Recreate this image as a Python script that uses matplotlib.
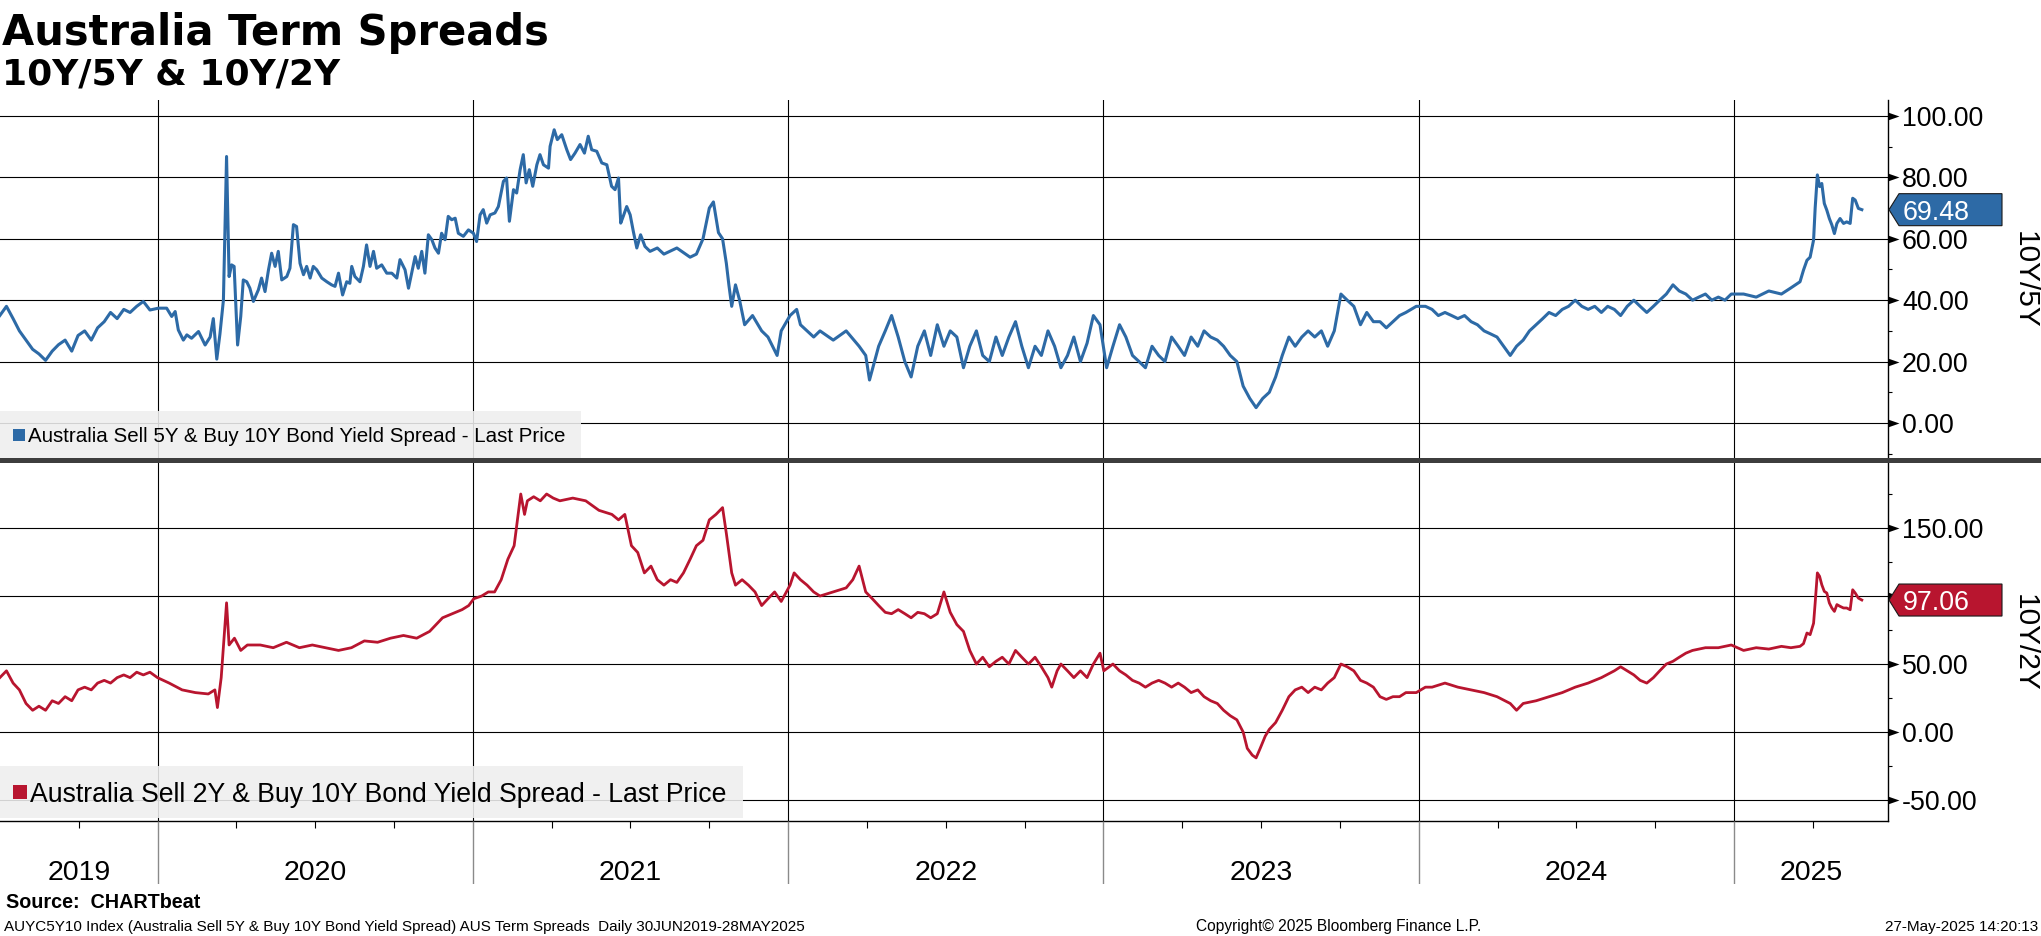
import numpy as np
import matplotlib
matplotlib.use("Agg")
import matplotlib.pyplot as plt
from matplotlib.ticker import FixedLocator, MultipleLocator, NullFormatter
from matplotlib.patches import Polygon, Rectangle
from matplotlib.transforms import IdentityTransform

# ---------------- data (decimal years, basis points) ----------------
years_5y = [
    2019.500, 2019.521, 2019.542, 2019.562, 2019.583, 2019.604, 2019.624, 2019.645, 2019.666, 2019.686,
    2019.707, 2019.728, 2019.748, 2019.769, 2019.790, 2019.810, 2019.831, 2019.851, 2019.872, 2019.893,
    2019.913, 2019.934, 2019.955, 2019.976,
    2020.003, 2020.029, 2020.045, 2020.056, 2020.066, 2020.082, 2020.093, 2020.108, 2020.130, 2020.151,
    2020.167, 2020.177, 2020.188, 2020.198, 2020.209, 2020.219, 2020.227, 2020.235, 2020.243, 2020.254,
    2020.264, 2020.272, 2020.283, 2020.293, 2020.304, 2020.320, 2020.330, 2020.341, 2020.352, 2020.362,
    2020.373, 2020.383, 2020.394, 2020.410, 2020.420, 2020.431, 2020.441, 2020.452, 2020.463, 2020.473,
    2020.484, 2020.494, 2020.505, 2020.521, 2020.537, 2020.552, 2020.563, 2020.574, 2020.587, 2020.600,
    2020.610, 2020.616, 2020.626, 2020.642, 2020.653, 2020.663, 2020.674, 2020.685, 2020.695, 2020.711,
    2020.727, 2020.743, 2020.759, 2020.769, 2020.785, 2020.796, 2020.806, 2020.817, 2020.827, 2020.838,
    2020.848, 2020.859, 2020.870, 2020.880, 2020.891, 2020.901, 2020.912, 2020.922, 2020.933, 2020.944,
    2020.954, 2020.970, 2020.986, 2021.002, 2021.012, 2021.023, 2021.033, 2021.044, 2021.055, 2021.070,
    2021.081, 2021.097, 2021.107, 2021.116, 2021.129, 2021.139, 2021.150, 2021.160, 2021.169, 2021.179,
    2021.190, 2021.203, 2021.213, 2021.224, 2021.240, 2021.245, 2021.258, 2021.268, 2021.282, 2021.298,
    2021.310, 2021.324, 2021.340, 2021.354, 2021.366, 2021.377, 2021.393, 2021.409, 2021.425, 2021.440,
    2021.451, 2021.462, 2021.469, 2021.477, 2021.488, 2021.499, 2021.509, 2021.520, 2021.532, 2021.546,
    2021.562,
    2021.585, 2021.606, 2021.647, 2021.689, 2021.709, 2021.730, 2021.750, 2021.763, 2021.779, 2021.792,
    2021.804, 2021.812, 2021.821, 2021.833, 2021.846, 2021.862, 2021.887, 2021.916, 2021.936, 2021.965,
    2021.978, 2022.006, 2022.027, 2022.039, 2022.060, 2022.081, 2022.101, 2022.143, 2022.184, 2022.225,
    2022.246, 2022.258, 2022.287, 2022.308, 2022.328, 2022.349, 2022.370, 2022.390, 2022.411, 2022.432,
    2022.452, 2022.473, 2022.494, 2022.514, 2022.535, 2022.556, 2022.576, 2022.597, 2022.617, 2022.638,
    2022.659, 2022.679, 2022.700, 2022.721, 2022.741, 2022.762, 2022.783, 2022.803, 2022.824, 2022.845,
    2022.865, 2022.886, 2022.906, 2022.927, 2022.948, 2022.968, 2022.989, 2023.010, 2023.030, 2023.051,
    2023.071, 2023.092, 2023.113, 2023.133, 2023.154, 2023.175, 2023.195, 2023.216, 2023.237, 2023.257,
    2023.278, 2023.299, 2023.319, 2023.340, 2023.361, 2023.381, 2023.402, 2023.423, 2023.443, 2023.464,
    2023.484, 2023.505, 2023.526, 2023.546, 2023.567, 2023.588, 2023.608, 2023.629, 2023.649, 2023.670,
    2023.691, 2023.711, 2023.732, 2023.753, 2023.773, 2023.794, 2023.815, 2023.835, 2023.856, 2023.877,
    2023.897, 2023.918, 2023.939, 2023.959, 2023.992, 2024.021, 2024.042, 2024.062, 2024.083, 2024.104,
    2024.124, 2024.145, 2024.166, 2024.186, 2024.207, 2024.228, 2024.248, 2024.269, 2024.290, 2024.310,
    2024.331, 2024.351, 2024.372, 2024.393, 2024.413, 2024.434, 2024.455, 2024.475, 2024.496, 2024.517,
    2024.537, 2024.558, 2024.579, 2024.599, 2024.620, 2024.640, 2024.661, 2024.682, 2024.702, 2024.723,
    2024.744, 2024.764, 2024.785, 2024.806, 2024.826, 2024.847, 2024.868, 2024.888, 2024.909, 2024.929,
    2024.950, 2024.971, 2024.991, 2025.030, 2025.070, 2025.110, 2025.150, 2025.180,
    2025.209, 2025.220, 2025.231, 2025.241, 2025.252, 2025.257, 2025.264, 2025.271, 2025.278, 2025.286,
    2025.294, 2025.302, 2025.310, 2025.318, 2025.326, 2025.336, 2025.347, 2025.357, 2025.368, 2025.376,
    2025.384, 2025.394, 2025.405,
]
spread_10y5y = [
    35, 38, 34, 30, 27, 24, 22.5, 20.4, 23.4, 25.5,
    27, 23.4, 28.5, 30, 27, 31, 33, 36, 34, 37,
    36, 38, 39.6, 36.8,
    37.4, 37.4, 34.7, 36.3, 30.3, 27.0, 28.7, 27.6, 29.8, 25.4,
    28.0, 34.0, 20.8, 29.0, 40.0, 86.8, 47.7, 51.5, 51.0, 25.4,
    34.7, 46.6, 46.0, 43.9, 39.6, 43.4, 47.2, 42.8, 49.9, 55.3,
    51.0, 55.9, 46.6, 47.7, 50.4, 64.6, 64.0, 52.0, 48.3, 51.0,
    47.2, 51.0, 49.9, 47.2, 46.0, 45.0, 44.5, 48.8, 41.7, 46.0,
    45.5, 51.0, 47.7, 46.0, 51.0, 58.0, 51.0, 55.9, 50.4, 51.5,
    48.8, 48.8, 47.2, 53.2, 49.9, 43.9, 48.8, 54.2, 50.4, 55.9,
    48.8, 61.3, 59.7, 57.0, 55.3, 61.8, 59.7, 67.3, 66.2, 66.7,
    61.8, 60.8, 62.9, 61.8, 59.1, 67.8, 69.5, 65.1, 67.8, 68.4,
    70.5, 78.7, 79.8, 65.7, 76.0, 74.9, 82.5, 87.4, 78.2, 82.5,
    77.1, 84.1, 87.4, 84.1, 83.0, 90.1, 95.5, 92.3, 93.9, 89.0,
    85.8, 87.9, 90.7, 87.9, 93.4, 89.0, 88.5, 84.7, 84.1, 77.1,
    76.0, 79.8, 65.1, 67.3, 70.5, 67.8, 62.4, 57.0, 61.3, 57.5,
    55.9,
    57, 55, 57, 54, 55, 60, 70, 72, 62, 60,
    52, 45, 38, 45, 40, 32, 35, 30, 28, 22,
    30, 35, 37, 32, 30, 28, 30, 27, 30, 25,
    22, 14, 25, 30, 35, 28, 20, 15, 25, 30,
    22, 32, 25, 30, 28, 18, 25, 30, 22, 20,
    28, 22, 28, 33, 25, 18, 25, 22, 30, 25,
    18, 22, 28, 20, 26, 35, 32, 18, 25, 32,
    28, 22, 20, 18, 25, 22, 20, 28, 25, 22,
    28, 25, 30, 28, 27, 25, 22, 20, 12, 8,
    5, 8, 10, 15, 22, 28, 25, 28, 30, 28,
    30, 25, 30, 42, 40, 38, 32, 36, 33, 33,
    31, 33, 35, 36, 38, 38, 37, 35, 36, 35,
    34, 35, 33, 32, 30, 29, 28, 25, 22, 25,
    27, 30, 32, 34, 36, 35, 37, 38, 40, 38,
    37, 38, 36, 38, 37, 35, 38, 40, 38, 36,
    38, 40, 42, 45, 43, 42, 40, 41, 42, 40,
    41, 40, 42, 42, 41, 43, 42, 44,
    46, 49.8, 53, 54, 59.6, 70, 80.8, 77, 78, 71.5,
    69.3, 66.6, 64.5, 61.7, 65, 66.6, 65, 65.5, 65, 73.2,
    72.6, 69.9, 69.48,
]

years_2y = [
    2019.500, 2019.521, 2019.542, 2019.562, 2019.583, 2019.604, 2019.624, 2019.645, 2019.666, 2019.686,
    2019.707, 2019.728, 2019.748, 2019.769, 2019.790, 2019.810, 2019.831, 2019.851, 2019.872, 2019.893,
    2019.913, 2019.934, 2019.955, 2019.976,
    2020.000, 2020.037, 2020.078, 2020.120, 2020.161, 2020.182, 2020.190, 2020.202, 2020.219, 2020.227,
    2020.244, 2020.264, 2020.285, 2020.326, 2020.367, 2020.409, 2020.450, 2020.491, 2020.533, 2020.574,
    2020.615, 2020.656, 2020.698, 2020.739, 2020.780, 2020.822, 2020.863, 2020.904, 2020.945, 2020.966,
    2020.987, 2021.003, 2021.028, 2021.049, 2021.069, 2021.090, 2021.111, 2021.131, 2021.152, 2021.164,
    2021.173, 2021.193, 2021.214, 2021.234, 2021.255, 2021.276, 2021.317, 2021.358, 2021.400, 2021.441,
    2021.462, 2021.482, 2021.503, 2021.523, 2021.544, 2021.565, 2021.585, 2021.606, 2021.627, 2021.647,
    2021.668, 2021.689, 2021.709, 2021.730, 2021.750, 2021.771, 2021.792, 2021.804, 2021.821, 2021.833,
    2021.854, 2021.874, 2021.895, 2021.916, 2021.936, 2021.957, 2021.978, 2022.006, 2022.019, 2022.039,
    2022.060, 2022.081, 2022.101, 2022.143, 2022.184, 2022.205, 2022.225, 2022.246, 2022.267, 2022.287,
    2022.308, 2022.328, 2022.349, 2022.370, 2022.390, 2022.411, 2022.432, 2022.452, 2022.473, 2022.494,
    2022.514, 2022.535, 2022.556, 2022.576, 2022.597, 2022.617, 2022.638, 2022.659, 2022.679, 2022.700,
    2022.721, 2022.741, 2022.762, 2022.783, 2022.803, 2022.824, 2022.836, 2022.853, 2022.865, 2022.886,
    2022.906, 2022.927, 2022.948, 2022.968, 2022.989, 2023.001, 2023.030, 2023.051, 2023.071, 2023.092,
    2023.113, 2023.133, 2023.154, 2023.175, 2023.195, 2023.216, 2023.237, 2023.257, 2023.278, 2023.299,
    2023.319, 2023.340, 2023.361, 2023.381, 2023.402, 2023.423, 2023.443, 2023.456, 2023.472, 2023.484,
    2023.497, 2023.513, 2023.526, 2023.546, 2023.567, 2023.588, 2023.608, 2023.629, 2023.649, 2023.670,
    2023.691, 2023.711, 2023.732, 2023.753, 2023.773, 2023.794, 2023.815, 2023.835, 2023.856, 2023.877,
    2023.897, 2023.918, 2023.939, 2023.959, 2023.992, 2024.021, 2024.042, 2024.083, 2024.124, 2024.166,
    2024.207, 2024.248, 2024.290, 2024.310, 2024.331, 2024.372, 2024.413, 2024.455, 2024.496, 2024.537,
    2024.579, 2024.620, 2024.640, 2024.661, 2024.682, 2024.702, 2024.723, 2024.744, 2024.764, 2024.785,
    2024.806, 2024.826, 2024.847, 2024.868, 2024.909, 2024.950, 2024.991, 2025.030, 2025.070, 2025.110,
    2025.150, 2025.180,
    2025.209, 2025.220, 2025.231, 2025.241, 2025.252, 2025.257, 2025.264, 2025.271, 2025.278, 2025.286,
    2025.294, 2025.302, 2025.310, 2025.318, 2025.326, 2025.336, 2025.347, 2025.357, 2025.368, 2025.376,
    2025.384, 2025.394, 2025.405,
]
spread_10y2y = [
    40, 45, 36, 31, 21, 16, 19, 16, 23, 21,
    26, 23, 31, 33, 31, 36, 38, 36, 40, 42,
    40, 44, 42, 44,
    40, 36, 31, 29, 28, 31, 18, 40, 95, 64,
    69, 60, 64, 64, 62, 66, 62, 64, 62, 60,
    62, 67, 66, 69, 71, 69, 74, 84, 88, 90,
    93, 98, 100, 103, 103, 112, 127, 137, 175, 160,
    170, 173, 170, 175, 172, 170, 172, 170, 163, 160,
    156, 160, 137, 132, 117, 122, 112, 108, 112, 110,
    117, 127, 137, 141, 156, 160, 165, 146, 117, 108,
    112, 108, 103, 93, 98, 103, 96, 108, 117, 112,
    108, 103, 100, 103, 106, 112, 122, 103, 98, 93,
    88, 87, 90, 87, 84, 88, 87, 84, 87, 103,
    88, 79, 74, 60, 50, 55, 48, 52, 55, 50,
    60, 55, 50, 55, 48, 40, 33, 45, 50, 45,
    40, 45, 40, 50, 58, 45, 50, 45, 42, 38,
    36, 33, 36, 38, 36, 33, 36, 33, 29, 31,
    26, 23, 21, 16, 12, 9, 0, -12, -17, -19,
    -12, -3, 2, 7, 16, 26, 31, 33, 29, 33,
    31, 36, 40, 50, 48, 45, 38, 36, 33, 26,
    24, 26, 26, 29, 29, 33, 33, 36, 33, 31,
    29, 26, 21, 16, 21, 23, 26, 29, 33, 36,
    40, 45, 48, 45, 42, 38, 36, 40, 45, 50,
    52, 55, 58, 60, 62, 62, 64, 60, 62, 61,
    63, 62,
    63, 65, 72.8, 71.6, 80, 94.9, 117, 114.5, 108.3, 103.4,
    102.2, 94.9, 91.2, 88.7, 93.7, 92.4, 91.2, 91.2, 89.9, 104.6,
    102.2, 98.5, 97.06,
]

year_labels = ["2019", "2020", "2021", "2022", "2023", "2024", "2025"]
top_ticks = [0, 20, 40, 60, 80, 100]
bot_ticks = [-50, 0, 50, 100, 150]
last_5y = 69.48
last_2y = 97.06
legend_5y = "Australia Sell 5Y & Buy 10Y Bond Yield Spread - Last Price"
legend_2y = "Australia Sell 2Y & Buy 10Y Bond Yield Spread - Last Price"

# ---------------- style ----------------
BLUE = "#2d6aa6"
RED = "#b8152f"
SANS = ["Liberation Sans", "DejaVu Sans"]
BOLD = ["DejaVu Sans"]
XMIN, XMAX = 2019.5005, 2025.488

W, H = 2041, 936
fig = plt.figure(figsize=(W / 100, H / 100), dpi=100)
fig.patch.set_facecolor("white")


def fy(y):
    return 1 - y / H


PLOT_R = 1888
ax1 = fig.add_axes([0, fy(458), PLOT_R / W, (458 - 100) / H])
ax2 = fig.add_axes([0, fy(821), PLOT_R / W, (821 - 463) / H])
ax3 = fig.add_axes([0, fy(884), PLOT_R / W, (884 - 821) / H])

ax1.plot(years_5y, spread_10y5y, color=BLUE, lw=2.2, zorder=3, solid_joinstyle="round")
ax2.plot(years_2y, spread_10y2y, color=RED, lw=2.0, zorder=3, solid_joinstyle="round")

ax1.set_ylim(-11.4, 105.2)
ax2.set_ylim(-65.4, 197.8)


def make_fmt(hidden):
    # tick labels covered by the last-value box are left blank
    def f(v, p):
        if any(abs(v - h) < 1e-9 for h in hidden):
            return ""
        return f"{v:.2f}"
    return f


tri = [(0, -0.35), (1, 0), (0, 0.35), (0, -0.35)]
for ax, ticks, val in ((ax1, top_ticks, last_5y), (ax2, bot_ticks, last_2y)):
    ax.set_xlim(XMIN, XMAX)
    ax.set_facecolor("none")
    for s in ("left", "top", "bottom"):
        ax.spines[s].set_visible(False)
    ax.spines["right"].set_color("black")
    ax.spines["right"].set_linewidth(1.0)
    ax.xaxis.set_major_locator(FixedLocator([2020, 2021, 2022, 2023, 2024, 2025]))
    ax.xaxis.set_major_formatter(NullFormatter())
    ax.yaxis.set_major_locator(FixedLocator(ticks))
    ax.yaxis.tick_right()
    ylo, yhi = ax.get_ylim()
    span = (yhi - ylo) * 12 / 358
    hidden = [t for t in ticks if abs(t - val) < span]
    ax.yaxis.set_major_formatter(make_fmt(hidden))
    ax.tick_params(axis="y", which="major", length=0, pad=10, labelsize=19.3,
                   labelcolor="black")
    for lab in ax.get_yticklabels():
        lab.set_family(SANS)
    ax.tick_params(axis="y", which="minor", length=3.2, width=0.8, direction="out",
                   color="black")
    ax.tick_params(axis="x", which="major", length=0)
    ax.grid(True, which="major", color="black", lw=0.8, zorder=1)
    ax.plot(np.ones(len(ticks)), ticks, transform=ax.get_yaxis_transform(),
            ls="none", marker=tri, ms=15.8, mew=0, color="black", clip_on=False, zorder=4)

ax1.yaxis.set_minor_locator(MultipleLocator(10))
ax2.yaxis.set_minor_locator(MultipleLocator(25))
ax1.tick_params(axis="x", which="both", length=0)
ax2.spines["bottom"].set_visible(True)
ax2.spines["bottom"].set_color("black")
ax2.spines["bottom"].set_linewidth(1.0)
ax2.xaxis.set_minor_locator(MultipleLocator(0.25))
ax2.tick_params(axis="x", which="minor", length=5, width=0.8, direction="out", color="black")

# year label strip
ax3.set_xlim(XMIN, XMAX)
ax3.set_ylim(0, 1)
ax3.axis("off")
ax3.vlines([2020, 2021, 2022, 2023, 2024, 2025], 0, 1, color="#8a8a8a", lw=1.0)
bounds = [XMIN, 2020, 2021, 2022, 2023, 2024, 2025, XMAX]
for i, lab in enumerate(year_labels):
    mid = (bounds[i] + bounds[i + 1]) / 2
    ax3.text(mid, (884 - 880) / 63, lab, ha="center", va="baseline", fontsize=20.5,
             family=SANS, color="black")

fig.canvas.draw()
PX = IdentityTransform()


def py(y):
    return H - y


# legend boxes
for (x0, y0, x1, y1, txt, col, fs, sq, ty) in (
        (0, 411, 581, 458, legend_5y, BLUE, 14.8, 12, 435),
        (0, 766, 743, 818, legend_2y, RED, 19.2, 14, 792)):
    fig.add_artist(Rectangle((x0, py(y1)), x1 - x0, y1 - y0, transform=PX,
                             facecolor="#efefef", edgecolor="none", alpha=0.88, zorder=6))
    fig.add_artist(Rectangle((13, py(ty) - sq / 2), sq, sq, transform=PX,
                             facecolor=col, edgecolor="none", zorder=7))
    fig.text(13 + sq + 3, py(ty), txt, transform=PX, ha="left", va="center_baseline",
             fontsize=fs, family=SANS, color="black", zorder=8)

# value boxes
for ax, val, col in ((ax1, last_5y, BLUE), (ax2, last_2y, RED)):
    yc = ax.transData.transform((XMIN, val))[1]
    verts = [(1889, yc), (1899, yc + 16), (2002, yc + 16), (2002, yc - 16), (1899, yc - 16)]
    fig.add_artist(Polygon(verts, closed=True, transform=PX, facecolor=col,
                           edgecolor="#1a1a1a", lw=0.8, zorder=9))
    fig.text(1903, yc, f"{val:.2f}", transform=PX, ha="left", va="center_baseline",
             fontsize=19.3, family=SANS, color="white", zorder=10)

# right axis titles
fig.text(2025, py(280), "10Y/5Y", transform=PX, rotation=270, ha="center", va="center",
         fontsize=21.5, family=SANS, color="black")
fig.text(2025, py(643), "10Y/2Y", transform=PX, rotation=270, ha="center", va="center",
         fontsize=21.5, family=SANS, color="black")

# separator
fig.add_artist(Rectangle((0, py(462.5)), W, 5, transform=PX, facecolor="#3d3d3d",
                         edgecolor="none", zorder=11))

# titles
fig.text(2, py(45), "Australia Term Spreads", transform=PX, ha="left", va="baseline",
         fontsize=30, fontweight="bold", family=BOLD, color="black")
fig.text(2, py(85), "10Y/5Y & 10Y/2Y", transform=PX, ha="left", va="baseline",
         fontsize=26, fontweight="bold", family=BOLD, color="black")

# footer
fig.text(6, py(908), "Source:  CHARTbeat", transform=PX, ha="left", va="baseline",
         fontsize=14.2, fontweight="bold", family=SANS, color="black")
fig.text(4, py(931), "AUYC5Y10 Index (Australia Sell 5Y & Buy 10Y Bond Yield Spread) AUS Term Spreads  Daily 30JUN2019-28MAY2025",
         transform=PX, ha="left", va="baseline", fontsize=11, family=SANS, color="black")
fig.text(1196, py(931), "Copyright\u00a9 2025 Bloomberg Finance L.P.", transform=PX,
         ha="left", va="baseline", fontsize=11.2, family=SANS, color="black")
fig.text(2038, py(931), "27-May-2025 14:20:13", transform=PX, ha="right", va="baseline",
         fontsize=11, family=SANS, color="black")

fig.savefig("out.png", dpi=100)
